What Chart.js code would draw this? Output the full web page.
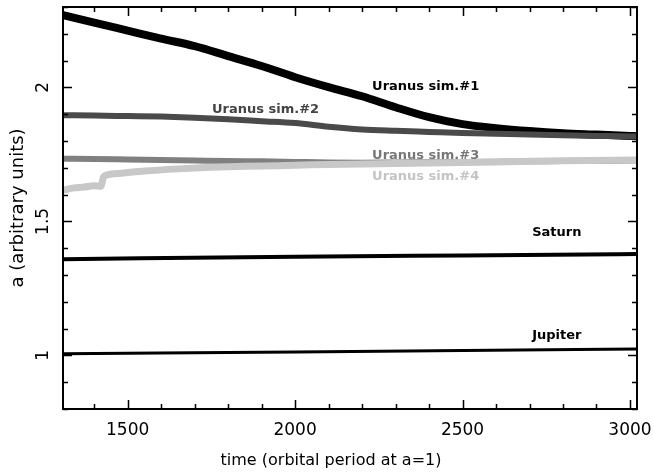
<!DOCTYPE html>
<html>
<head>
<meta charset="utf-8">
<script src="https://cdn.jsdelivr.net/npm/chart.js@4"></script>
<style>
  html, body { margin: 0; padding: 0; background: #fff; }
  canvas { display: block; }
</style>
</head>
<body>
<canvas id="orbitChart" width="654" height="473"></canvas>
<script>
// Semi-major axis vs time (orbital periods at a=1)

// shared time samples
const times = [1307, 1400, 1500, 1600, 1700, 1800, 1900, 2000, 2100, 2200,
  2300, 2400, 2500, 2600, 2700, 2800, 2900, 3000, 3021];

const uranus1 = [2.270, 2.242, 2.212, 2.182, 2.154, 2.117, 2.080, 2.038, 2.001, 1.967,
  1.926, 1.889, 1.863, 1.848, 1.837, 1.829, 1.824, 1.819, 1.818];
const uranus2 = [1.896, 1.895, 1.893, 1.891, 1.887, 1.881, 1.874, 1.867, 1.853, 1.843,
  1.838, 1.834, 1.830, 1.827, 1.824, 1.821, 1.819, 1.817, 1.816];
const uranus3 = [1.734, 1.733, 1.731, 1.729, 1.727, 1.725, 1.724, 1.722, 1.720, 1.719,
  1.720, 1.721, 1.722, 1.723, 1.724, 1.725, 1.726, 1.727, 1.727];

// sim #4 has a jump near t=1420, so it gets its own samples
const uranus4Times = [1307, 1340, 1370, 1400, 1420, 1428, 1440, 1480, 1550, 1650,
  1750, 1850, 1950, 2050, 2200, 2400, 2600, 2800, 3021];
const uranus4 = [1.616, 1.625, 1.628, 1.633, 1.631, 1.666, 1.674, 1.680, 1.688, 1.696,
  1.702, 1.706, 1.708, 1.711, 1.714, 1.718, 1.722, 1.726, 1.729];

const saturnTimes = [1307, 2000, 2500, 3021];
const saturn = [1.359, 1.368, 1.373, 1.378];
const jupiterTimes = [1307, 2000, 2500, 3021];
const jupiter = [1.006, 1.013, 1.018, 1.024];

// axis ticks
const xTicks = [1500, 2000, 2500, 3000];
const yTicks = [1, 1.5, 2];

// in-plot labels (data coords of left end / baseline)
const labelTexts = ["Uranus sim.#1", "Uranus sim.#2", "Uranus sim.#3", "Uranus sim.#4", "Saturn", "Jupiter"];
const labelTimes = [2230, 1752, 2230, 2230, 2708, 2708];
const labelValues = [1.990, 1.904, 1.732, 1.654, 1.445, 1.063];
const labelColors = ["#000000", "#444444", "#777777", "#c4c4c4", "#000000", "#000000"];

const FONT = "'DejaVu Sans', sans-serif";

function pts(xs, ys) {
  return xs.map((x, i) => ({ x: x, y: ys[i] }));
}

function lineSet(label, xs, ys, color, width, order) {
  return {
    label: label,
    data: pts(xs, ys),
    borderColor: color,
    backgroundColor: color,
    borderWidth: width,
    pointRadius: 0,
    cubicInterpolationMode: "monotone",
    fill: false,
    order: order,
  };
}

// frame with inward major/minor ticks on all four sides, y tick labels, x title
const framePlugin = {
  id: "frame",
  afterDraw(chart) {
    const { ctx, chartArea: a, scales } = chart;
    const xs = scales.x;
    const ys = scales.y;
    ctx.save();
    ctx.strokeStyle = "#000";
    ctx.lineWidth = 2;
    ctx.strokeRect(a.left, a.top, a.right - a.left, a.bottom - a.top);
    ctx.lineWidth = 1.5;
    ctx.beginPath();
    for (let t = 1400; t <= 3000; t += 100) {
      const px = Math.round(xs.getPixelForValue(t)) + 0.5;
      const len = t % 500 === 0 ? 9 : 5;
      ctx.moveTo(px, a.bottom);
      ctx.lineTo(px, a.bottom - len);
      ctx.moveTo(px, a.top);
      ctx.lineTo(px, a.top + len);
    }
    for (let k = 8; k <= 23; k++) {
      const py = Math.round(ys.getPixelForValue(k / 10)) + 0.5;
      const len = k % 5 === 0 ? 9 : 5;
      ctx.moveTo(a.left, py);
      ctx.lineTo(a.left + len, py);
      ctx.moveTo(a.right, py);
      ctx.lineTo(a.right - len, py);
    }
    ctx.stroke();

    // rotated y tick labels
    ctx.fillStyle = "#000";
    ctx.font = "17px " + FONT;
    ctx.textAlign = "center";
    ctx.textBaseline = "middle";
    yTicks.forEach((v) => {
      ctx.save();
      ctx.translate(a.left - 19, ys.getPixelForValue(v));
      ctx.rotate(-Math.PI / 2);
      ctx.fillText(String(v), 0, 0);
      ctx.restore();
    });

    // x axis title, centred on the page like the original
    ctx.font = "16px " + FONT;
    ctx.fillText("time (orbital period at a=1)", 331, 461);
    ctx.restore();
  },
};

const labelPlugin = {
  id: "lineLabels",
  afterDatasetsDraw(chart) {
    const { ctx, scales } = chart;
    ctx.save();
    ctx.font = "bold 13px " + FONT;
    ctx.textAlign = "left";
    ctx.textBaseline = "alphabetic";
    labelTexts.forEach((txt, i) => {
      ctx.fillStyle = labelColors[i];
      ctx.fillText(txt, scales.x.getPixelForValue(labelTimes[i]), scales.y.getPixelForValue(labelValues[i]));
    });
    ctx.restore();
  },
};

function noPadding(s) {
  s.paddingLeft = 0;
  s.paddingRight = 0;
  s.paddingTop = 0;
  s.paddingBottom = 0;
}

const ctx = document.getElementById("orbitChart").getContext("2d");
new Chart(ctx, {
  type: "line",
  data: {
    datasets: [
      lineSet("Jupiter", jupiterTimes, jupiter, "#000000", 3, 5),
      lineSet("Saturn", saturnTimes, saturn, "#000000", 4, 4),
      lineSet("Uranus sim.#3", times, uranus3, "#808080", 6, 3),
      lineSet("Uranus sim.#4", uranus4Times, uranus4, "#c8c8c8", 7, 2),
      lineSet("Uranus sim.#1", times, uranus1, "#000000", 8, 1),
      lineSet("Uranus sim.#2", times, uranus2, "#4a4a4a", 6, 0),
    ],
  },
  options: {
    responsive: false,
    animation: false,
    devicePixelRatio: 1,
    layout: { padding: { top: 7, right: 17, left: 0, bottom: 0 } },
    plugins: {
      legend: { display: false },
      tooltip: { enabled: false },
    },
    scales: {
      x: {
        type: "linear",
        min: 1307,
        max: 3021,
        grid: { display: false, drawTicks: false },
        border: { display: false },
        afterBuildTicks: (s) => { s.ticks = xTicks.map((v) => ({ value: v })); },
        ticks: {
          autoSkip: false,
          maxRotation: 0,
          padding: 11,
          color: "#000",
          font: { family: FONT, size: 17 },
          callback: (v) => String(v),
        },
        afterFit: (s) => { s.height = 64; noPadding(s); },
      },
      y: {
        type: "linear",
        min: 0.8,
        max: 2.3,
        grid: { display: false, drawTicks: false },
        border: { display: false },
        afterBuildTicks: (s) => { s.ticks = yTicks.map((v) => ({ value: v })); },
        ticks: { display: false },
        title: {
          display: true,
          text: "a (arbitrary units)",
          color: "#000",
          font: { family: FONT, size: 18 },
          padding: { top: 8, bottom: 0 },
        },
        afterFit: (s) => { s.width = 63; noPadding(s); },
      },
    },
  },
  plugins: [framePlugin, labelPlugin],
});
</script>
</body>
</html>
